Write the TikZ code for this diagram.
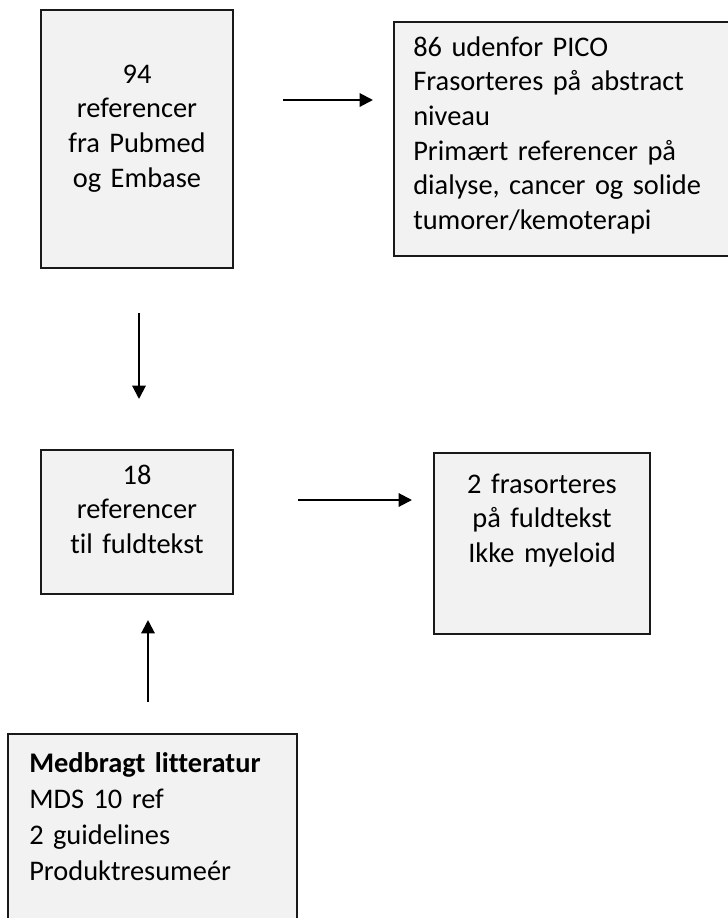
\documentclass[tikz,border=0pt]{standalone}
\usepackage{fontspec}
\setmainfont{Carlito}[Ligatures={NoCommon,TeX}]
\usetikzlibrary{arrows.meta}
\definecolor{boksgraa}{HTML}{F2F2F2}
\tikzset{
  boks/.style={draw=black!90, fill=boksgraa, line width=1.4pt},
  pil/.style={line width=1.5pt, -{Triangle[length=10pt,width=10pt]}},
  tekst/.style={inner sep=0pt, font=\fontsize{21.3}{26}\selectfont},
  midt/.style={tekst, anchor=base, align=center},
  venstre/.style={tekst, anchor=base west, align=left}
}
\begin{document}
\begin{tikzpicture}[x=0.75pt, y=-0.75pt]
        \useasboundingbox (0,0) rectangle (728,918);
        \clip (0,0) rectangle (728,918);

        % Search result
        \draw[boks] (41,10) rectangle (233,268);
        \node[midt, text width=180pt] (soeg) at (137,83)
          {94\\ referencer\\ fra Pubmed\\ og Embase};

        % Excluded on abstract
        \draw[boks] (394,22) rectangle (740,256);
        \node[venstre, text width=240pt] (pico) at (413,56)
          {86 udenfor PICO\\ Frasorteres på abstract\\ niveau\\
           Primært referencer på\\ dialyse, cancer og solide\\ tumorer/kemoterapi};

        % Full text
        \draw[boks] (41,450) rectangle (233,594);
        \node[midt, text width=140pt] (fuld) at (137,484)
          {18\\ referencer\\ til fuldtekst};

        % Excluded on full text
        \draw[boks] (434,453) rectangle (650,634);
        \node[midt, text width=160pt] (udeladt) at (542,493)
          {2 frasorteres\\ på fuldtekst\\ Ikke myeloid};

        % Own literature
        \draw[boks] (8,734) rectangle (297,930);
        \node[venstre, text width=210pt, font=\fontsize{21.3}{27}\selectfont] (egen) at (29,772)
          {\textbf{Medbragt litteratur}\\ MDS 10 ref\\ 2 guidelines\\ Produktresumeér};

        % Arrows
        \coordinate (p1) at (283,100);
        \coordinate (p2) at (373,100);
        \coordinate (p3) at (139,313);
        \coordinate (p4) at (139,399);
        \coordinate (p5) at (298,500);
        \coordinate (p6) at (412,500);
        \coordinate (p7) at (148,702);
        \coordinate (p8) at (148,620);
        \draw[pil] (p1) -- (p2);
        \draw[pil] (p3) -- (p4);
        \draw[pil] (p5) -- (p6);
        \draw[pil] (p7) -- (p8);
    \end{tikzpicture}
\end{document}
